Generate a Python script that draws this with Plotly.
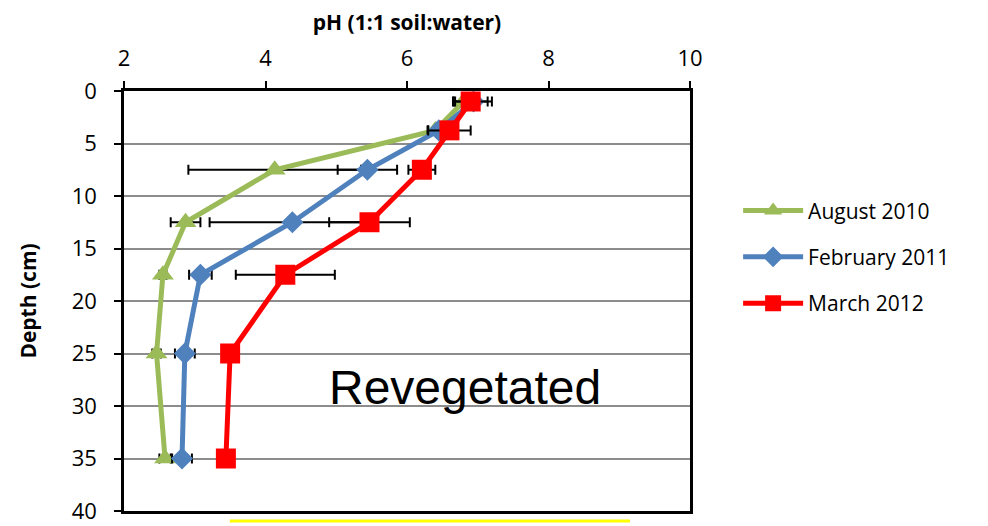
import plotly.graph_objects as go

depth = [1, 3.75, 7.5, 12.5, 17.5, 25, 35]

aug2010 = [6.80, 6.40, 4.13, 2.87, 2.55, 2.46, 2.58]
aug2010_err = [0.15, 0.10, 1.22, 0.21, 0.05, 0.06, 0.08]

feb2011 = [6.94, 6.45, 5.44, 4.38, 3.08, 2.86, 2.82]
feb2011_err = [0.26, 0.16, 0.42, 1.17, 0.16, 0.14, 0.14]

mar2012 = [6.90, 6.60, 6.21, 5.47, 4.28, 3.50, 3.44]
mar2012_err = [0.24, 0.30, 0.19, 0.57, 0.70, 0.0, 0.0]

series_names = ["August 2010", "February 2011", "March 2012"]
colors = ["#9BBB59", "#4F81BD", "#FF0000"]
symbols = ["triangle-up", "diamond", "square"]
sizes = [19, 17, 20]

x_ticks = [2, 4, 6, 8, 10]
y_ticks = [0, 5, 10, 15, 20, 25, 30, 35, 40]

FONT = "Open Sans"

fig = go.Figure()
for i, (vals, errs) in enumerate([(aug2010, aug2010_err), (feb2011, feb2011_err), (mar2012, mar2012_err)]):
    fig.add_trace(go.Scatter(
        x=vals, y=depth, name=series_names[i], mode="lines+markers",
        legendgroup=series_names[i],
        line=dict(color=colors[i], width=5),
        marker=dict(symbol=symbols[i], size=sizes[i], color=colors[i]),
        error_x=dict(type="data", array=errs, visible=True, color="black",
                     thickness=2, width=5),
    ))

# page has an 8px body margin, so the figure is 980x518 with margins shifted accordingly
fig.update_layout(
    width=980, height=518,
    margin=dict(l=116, r=298, t=83, b=15),
    paper_bgcolor="white", plot_bgcolor="white",
    font=dict(family=FONT, color="black"),
    showlegend=True,
    legend=dict(x=1.085, xanchor="left", y=0.605, yanchor="middle",
                font=dict(family=FONT, size=21, color="black"),
                tracegroupgap=16, traceorder="grouped", itemwidth=60,
                bgcolor="rgba(0,0,0,0)"),
    xaxis=dict(
        range=[2, 10], side="top", tickvals=x_ticks, automargin=False,
        ticks="outside", ticklen=7, tickwidth=2, tickcolor="black",
        ticklabelstandoff=6, ticklabeloverflow="allow",
        showline=True, linecolor="black", linewidth=2.5, mirror=True,
        showgrid=False, zeroline=False,
        tickfont=dict(family=FONT, size=22, color="black"),
        title=dict(text="<b>pH (1:1 soil:water)</b>",
                   font=dict(family=FONT, size=21, color="black"), standoff=17),
    ),
    yaxis=dict(
        range=[40, 0], tickvals=y_ticks, automargin=False,
        ticks="outside", ticklen=7, tickwidth=2, tickcolor="black",
        ticklabelstandoff=13, ticklabeloverflow="allow",
        showline=True, linecolor="black", linewidth=2.5, mirror=True,
        showgrid=True, gridcolor="#8C8C8C", gridwidth=2, zeroline=False,
        tickfont=dict(family=FONT, size=22, color="black"),
        title=dict(text="<b>Depth (cm)</b>",
                   font=dict(family=FONT, size=21, color="black"), standoff=30),
    ),
)

fig.add_annotation(text="Revegetated", xref="paper", yref="paper",
                   x=0.6025, y=0.295, xanchor="center", yanchor="middle",
                   showarrow=False,
                   font=dict(family="Liberation Sans", size=48, color="black"))

fig.add_shape(type="line", xref="paper", yref="paper",
              x0=0.187, x1=0.894, y0=-0.0238, y1=-0.0238,
              line=dict(color="#FFFF00", width=3))

fig.write_html("out.html")
